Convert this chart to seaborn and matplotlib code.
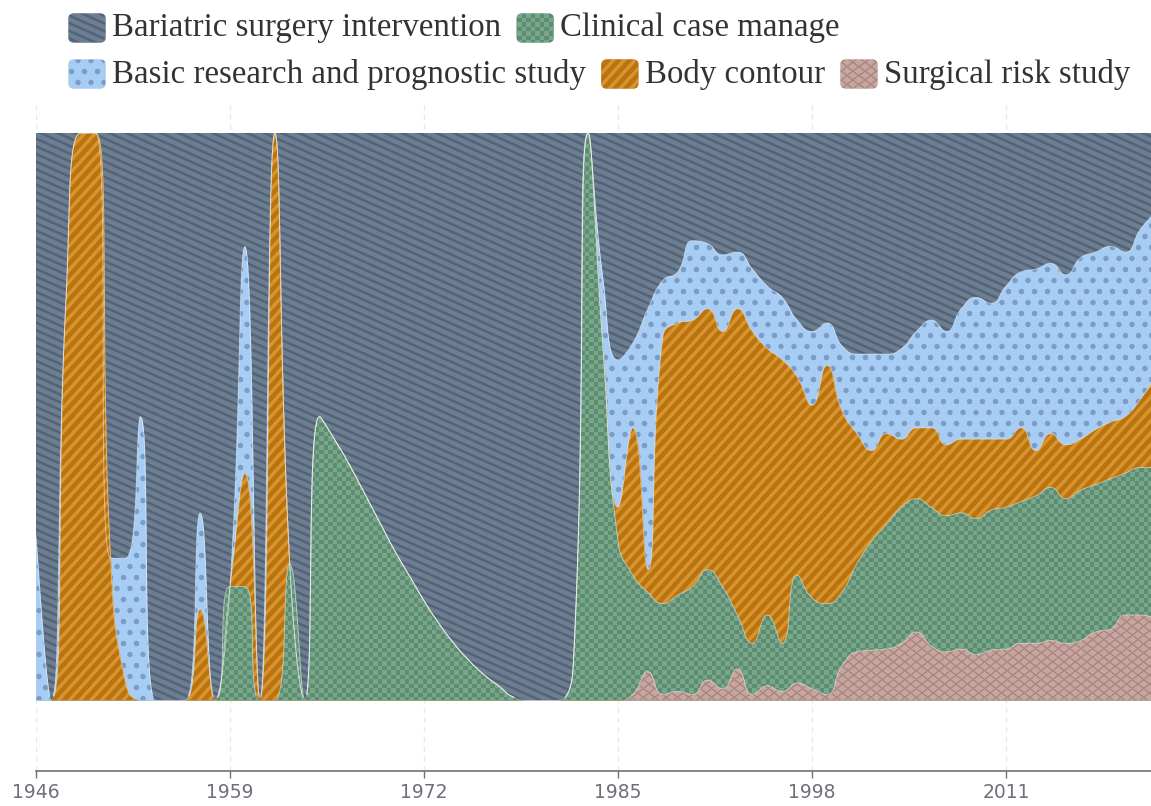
import numpy as np
import pandas as pd
import matplotlib
matplotlib.use("Agg")
import matplotlib.pyplot as plt
import matplotlib.colors as mcolors
from matplotlib.patches import FancyBboxPatch
import seaborn as sns

# ---- data (share of publications per year, %) ----
years = list(range(1946, 2022))

surgical_risk = [0] * 40 + [
    1, 5, 1, 1.5, 1, 3.5, 2, 5.5, 1, 2.5, 1.5, 3, 2, 1, 6,
    8.5, 8.8, 9, 10, 12, 9.5, 8.5, 9, 8, 8.8, 9, 10, 10, 10.5, 10, 10.5, 12, 12.5, 15, 15, 14.5]

clinical_case = [0] * 13 + [
    20, 20, 0, 0, 24, 0,
    50, 46, 41.5, 36.5, 31.5, 26.5, 22, 17.5, 13.5, 10, 7, 4.5, 2.5,
    0.5, 0, 0, 0, 6, 100, 62, 28,
    21, 14, 16, 17, 19, 19.5, 18, 9.5, 9, 12.5, 8.5, 19, 16, 16, 13,
    15.5, 19.2, 22, 24, 23.5, 24.5, 24, 24, 24, 24.7, 25, 25, 26, 27, 25.5, 26.5, 26, 26.5, 25, 26, 26.5]

body_contour = [
    0, 0, 70, 100, 100, 25, 3, 0, 0, 0, 0, 16, 0, 0, 20, 0, 100, 0, 0] + [0] * 20 + [
    6, 26, 4, 47, 48, 47, 46, 45, 54, 55, 47, 50, 35, 34, 42, 32,
    23, 16, 16, 12, 12.5, 14, 12.5, 13, 14, 12.5, 12, 13, 8, 9.5, 9.5, 9, 9.7, 10, 10, 12, 16]

basic_research = [
    29, 0, 0, 0, 0, 0, 22, 50, 0, 0, 0, 17, 0, 0, 40, 0, 0, 0, 0] + [0] * 19 + [
    12, 26, 15, 46, 10, 9, 14, 11.5, 13.5, 10, 11, 11, 11, 10, 13, 7.5, 11.5,
    14, 17, 14, 16, 17, 19, 20, 23, 25, 24, 27, 27.5, 32, 30, 30, 32, 31.3, 31, 29, 30, 29]

bariatric = [
    71, 100, 30, 0, 0, 75, 75, 50, 100, 100, 100, 67, 100, 80, 20, 100, 0, 76, 100,
    50, 54, 58.5, 63.5, 68.5, 73.5, 78, 82.5, 86.5, 90, 93, 95.5, 97.5, 99.5, 100, 100, 100, 94, 0,
    26, 40, 37, 31, 26, 24.5, 19, 19.5, 21.5, 21, 24, 27, 29, 33, 35, 33.5, 37.5,
    39, 39, 39, 38, 35, 33, 35, 31, 29, 30, 27, 24.5, 24, 23, 25, 22, 21, 20, 21, 17, 14]

# bottom -> top stacking order
stack_names = ["Surgical risk study", "Clinical case manage", "Body contour",
               "Basic research and prognostic study", "Bariatric surgery intervention"]
stack_values = [surgical_risk, clinical_case, body_contour, basic_research, bariatric]

legend_rows = [["Bariatric surgery intervention", "Clinical case manage"],
               ["Basic research and prognostic study", "Body contour", "Surgical risk study"]]

xticks = [1946, 1959, 1972, 1985, 1998, 2011]

# decal-like fills
styles = {
    "Bariatric surgery intervention": dict(kind="stripes", base="#6c7e8f", mark="#53647a", angle=24, period=7.0, width=2.6),
    "Clinical case manage": dict(kind="checker", base="#78a68a", mark="#5d8c70", size=4.5),
    "Basic research and prognostic study": dict(kind="dots", base="#a7cdf4", mark="#7b9cc4", dx=13, dy=11, r=2.7),
    "Body contour": dict(kind="stripes", base="#b9730f", mark="#d8952f", angle=-48, period=8.0, width=3.4),
    "Surgical risk study": dict(kind="cross", base="#c8a69f", mark="#a4857e", angle=38, period=7.0, width=1.3),
}


def stripe_alpha(u, period, width):
    t = np.mod(u, period)
    d = np.minimum(t, period - t)
    return np.clip(width / 2 + 0.5 - d, 0, 1)


def make_pattern(st, x0, y0, w, h):
    X, Y = np.meshgrid(np.arange(w) + x0 + 0.5, np.arange(h) + y0 + 0.5)
    kind = st["kind"]
    if kind == "stripes":
        a = np.deg2rad(st["angle"])
        alpha = stripe_alpha(-X * np.sin(a) + Y * np.cos(a), st["period"], st["width"])
    elif kind == "cross":
        a = np.deg2rad(st["angle"])
        a1 = stripe_alpha(-X * np.sin(a) + Y * np.cos(a), st["period"], st["width"])
        a2 = stripe_alpha(X * np.sin(a) + Y * np.cos(a), st["period"], st["width"])
        alpha = np.maximum(a1, a2)
    elif kind == "checker":
        s = st["size"]
        alpha = ((np.floor(X / s) + np.floor(Y / s)) % 2).astype(float)
    else:
        dx, dy, r = st["dx"], st["dy"], st["r"]
        row = np.floor(Y / dy)
        off = (row % 2) * dx / 2
        cy = (row + 0.5) * dy
        cx = (np.floor((X - off) / dx) + 0.5) * dx + off
        alpha = np.clip(r + 0.5 - np.hypot(X - cx, Y - cy), 0, 1)
    base = np.array(mcolors.to_rgb(st["base"]))
    mark = np.array(mcolors.to_rgb(st["mark"]))
    return base * (1 - alpha[..., None]) + mark * alpha[..., None]


sns.set_theme(style="white")
plt.rcParams["font.family"] = ["DejaVu Sans"]

W, H = 1151, 806
fig = plt.figure(figsize=(W / 100, H / 100), dpi=100)
fig.patch.set_facecolor("white")

ax_left, ax_right, ax_top, ax_bottom = 36, 1155.2, 105, 771
ax = fig.add_axes([ax_left / W, 1 - ax_bottom / H, (ax_right - ax_left) / W, (ax_bottom - ax_top) / H])
ylo, yhi = -71 / 567, 1 + 28 / 567
ax.set_xlim(years[0], years[-1])
ax.set_ylim(ylo, yhi)

df = pd.DataFrame(dict(zip(stack_names, stack_values)), index=years)
share = df.div(df.sum(axis=1), axis=0)
cum = share.cumsum(axis=1)


def smooth_curve(xd, yd, smooth=0.5, steps=24):
    # bezier smoothing with neighbour-clamped control points (pixel space)
    pts = ax.transData.transform(np.column_stack([xd, yd]))
    px, py = pts[:, 0], pts[:, 1]
    out = [pts[0]]
    cx0, cy0 = px[0], py[0]
    n = len(px)
    t = np.linspace(0, 1, steps + 1)[1:, None]
    for i in range(1, n):
        x, y = px[i], py[i]
        x0, y0 = px[i - 1], py[i - 1]
        if i == n - 1:
            cx1, cy1, ncx, ncy = x, y, x, y
        else:
            x2, y2 = px[i + 1], py[i + 1]
            lp = np.hypot(x - x0, y - y0)
            ln = np.hypot(x2 - x, y2 - y)
            vx, vy = x2 - x0, y2 - y0
            r = ln / (ln + lp)
            ncx = np.clip(x + vx * smooth * r, min(x2, x), max(x2, x))
            ncy = np.clip(y + vy * smooth * r, min(y2, y), max(y2, y))
            vx, vy = ncx - x, ncy - y
            cx1 = np.clip(x - vx * lp / ln, min(x0, x), max(x0, x))
            cy1 = np.clip(y - vy * lp / ln, min(y0, y), max(y0, y))
            vx, vy = x - cx1, y - cy1
            ncx, ncy = x + vx * ln / lp, y + vy * ln / lp
        seg = ((1 - t) ** 3) * np.array([x0, y0]) + 3 * ((1 - t) ** 2) * t * np.array([cx0, cy0]) \
            + 3 * (1 - t) * t ** 2 * np.array([cx1, cy1]) + t ** 3 * np.array([x, y])
        out.extend(seg)
        cx0, cy0 = ncx, ncy
    return ax.transData.inverted().transform(np.array(out))


curves = {name: smooth_curve(np.array(years, float), cum[name].values) for name in stack_names}

# pattern image covering the axes, aligned to figure pixels
img_w = int(round(ax_right - ax_left))
img_h = int(round(ax_bottom - ax_top))

for z, name in enumerate(reversed(stack_names)):
    c = curves[name]
    poly = ax.fill_between(c[:, 0], 0, c[:, 1], color=styles[name]["base"], lw=0, zorder=2 + z)
    img = make_pattern(styles[name], ax_left, ax_top, img_w, img_h)
    im = ax.imshow(img, extent=(years[0], years[-1], ylo, yhi), aspect="auto",
                   interpolation="nearest", origin="upper", zorder=2.5 + z)
    im.set_clip_path(poly.get_paths()[0], transform=ax.transData)

# thin light seams between layers (skip the parts lying on the baseline)
parts = []
for n in stack_names[:-1]:
    s = pd.DataFrame({"year": curves[n][:, 0], "share": curves[n][:, 1]})
    on = s["share"] > 0.004
    s["layer"] = n + "_" + (on != on.shift()).cumsum().astype(str)
    parts.append(s[on])
seams = pd.concat(parts, ignore_index=True)
sns.lineplot(data=seams, x="year", y="share", units="layer", estimator=None, sort=False,
             color="white", lw=0.7, alpha=0.45, legend=False, ax=ax, zorder=20)

ax.set_xlim(years[0], years[-1])
ax.set_ylim(ylo, yhi)
ax.set_xlabel("")
ax.set_ylabel("")
ax.set_yticks([])
ax.set_xticks(xticks)
ax.set_xticklabels([str(v) for v in xticks], fontsize=13.5, color="#6e7079")
ax.tick_params(axis="x", direction="out", length=5, width=1, color="#6e7079", pad=4, bottom=True)
ax.grid(axis="x", color="#e6e9f0", linestyle=(0, (4, 3)), lw=1)
ax.set_axisbelow(True)
for side in ["top", "right", "left"]:
    ax.spines[side].set_visible(False)
ax.spines["bottom"].set_color("#6e7079")
ax.spines["bottom"].set_linewidth(1.2)
ax.set_facecolor("none")

# legend laid out as two wrapped rows
fig.canvas.draw()
renderer = fig.canvas.get_renderer()
icon_w, icon_h = 38, 30
row_y = [28, 74]
for row, cy in zip(legend_rows, row_y):
    x = 68
    for name in row:
        top = cy - icon_h / 2
        iax = fig.add_axes([x / W, 1 - (top + icon_h) / H, icon_w / W, icon_h / H])
        iax.set_xlim(0, icon_w)
        iax.set_ylim(0, icon_h)
        iax.axis("off")
        box = FancyBboxPatch((0.5, 0.5), icon_w - 1, icon_h - 1,
                             boxstyle="round,pad=0,rounding_size=5",
                             fc=styles[name]["base"], ec="none", zorder=1)
        iax.add_patch(box)
        pat = make_pattern(styles[name], x, top, icon_w, icon_h)
        im = iax.imshow(pat, extent=(0, icon_w, 0, icon_h), origin="upper",
                        interpolation="nearest", aspect="auto", zorder=2)
        im.set_clip_path(box)
        txt = fig.text((x + icon_w + 6) / W, 1 - cy / H, name, ha="left", va="center",
                       fontsize=23.7, color="#333333", family=["Liberation Serif", "DejaVu Serif"])
        bb = txt.get_window_extent(renderer)
        x = bb.x1 + 15

fig.savefig("out.png", dpi=100)
